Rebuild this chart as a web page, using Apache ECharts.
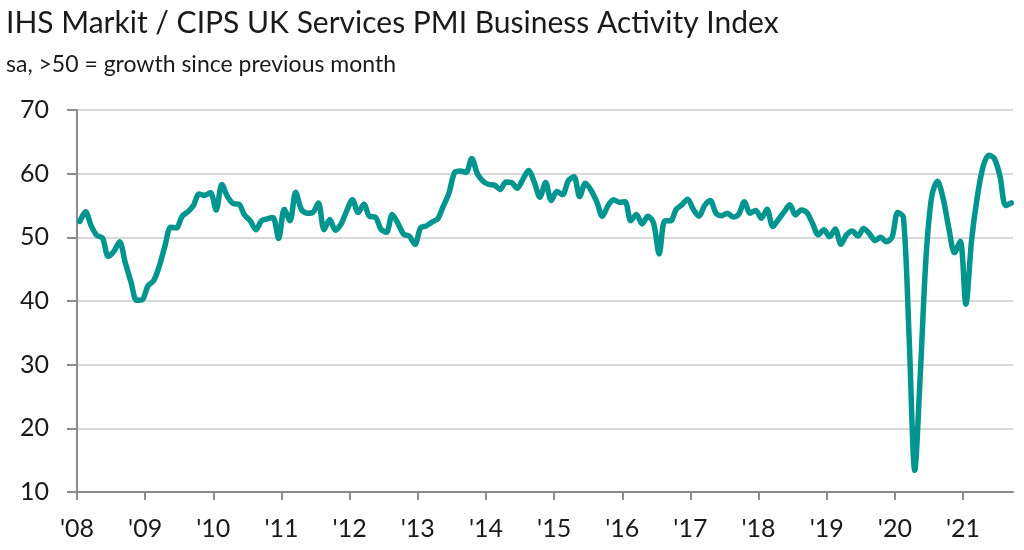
<!DOCTYPE html>
<html>
<head>
<meta charset="utf-8">
<script src="https://cdn.jsdelivr.net/npm/echarts@6/dist/echarts.min.js"></script>
<style>
html,body{margin:0;padding:0;background:#fff;}
#chart{width:1024px;height:550px;}
</style>
</head>
<body>
<div id="chart"></div>
<script>
// Monthly values, Jan..Dec, per year (sa index)
const v2008 = [52.5, 54.0, 51.8, 50.3, 49.9, 47.0, 47.8, 49.3, 46.0, 43.0, 40.1, 40.2];
const v2009 = [42.4, 43.2, 45.5, 48.7, 51.6, 51.5, 53.3, 54.0, 55.0, 56.8, 56.6, 57.0];
const v2010 = [54.3, 58.3, 56.4, 55.3, 55.2, 53.5, 52.6, 51.2, 52.6, 52.9, 53.1, 49.8];
const v2011 = [54.4, 52.6, 57.1, 54.4, 53.8, 53.9, 55.4, 51.2, 52.8, 51.1, 52.1, 54.2];
const v2012 = [55.9, 53.9, 55.2, 53.3, 53.2, 51.3, 50.8, 53.6, 52.2, 50.5, 50.2, 48.9];
const v2013 = [51.5, 51.8, 52.4, 52.9, 54.9, 57.0, 60.2, 60.4, 60.2, 62.4, 60.0, 58.8];
const v2014 = [58.3, 58.2, 57.5, 58.7, 58.6, 57.7, 59.1, 60.5, 58.7, 56.3, 58.6, 55.8];
const v2015 = [57.2, 56.7, 58.9, 59.5, 56.4, 58.5, 57.4, 55.6, 53.3, 55.0, 55.9, 55.5];
const v2016 = [55.6, 52.6, 53.6, 52.1, 53.3, 52.3, 47.4, 52.6, 52.6, 54.4, 55.1, 56.0];
const v2017 = [54.4, 53.3, 55.0, 55.8, 53.8, 53.4, 53.8, 53.2, 53.6, 55.6, 53.8, 54.2];
const v2018 = [53.0, 54.4, 51.7, 52.8, 54.0, 55.1, 53.5, 54.3, 53.9, 52.2, 50.4, 51.2];
const v2019 = [50.1, 51.3, 48.9, 50.4, 51.0, 50.2, 51.4, 50.6, 49.5, 50.0, 49.3, 50.0];
const v2020 = [53.9, 53.2, 34.5, 13.4, 29.0, 47.1, 56.5, 58.8, 56.1, 51.4, 47.6, 49.4];
const v2021 = [39.5, 49.5, 56.3, 61.0, 62.9, 62.4, 59.6, 55.0, 55.4];

const years = [2008, 2009, 2010, 2011, 2012, 2013, 2014, 2015, 2016, 2017, 2018, 2019, 2020, 2021];
const yearValues = [v2008, v2009, v2010, v2011, v2012, v2013, v2014, v2015, v2016, v2017, v2018, v2019, v2020, v2021];
const tickLabels = ["'08", "'09", "'10", "'11", "'12", "'13", "'14", "'15", "'16", "'17", "'18", "'19", "'20", "'21"];

const titleText = 'IHS Markit / CIPS UK Services PMI Business Activity Index';
const subtitleText = 'sa, >50 = growth since previous month';

const data = [];
years.forEach((y, yi) => {
  yearValues[yi].forEach((v, m) => {
    data.push([y + (m + 0.5) / 12, v]);
  });
});

const FONT = 'Lato';
const chart = echarts.init(document.getElementById('chart'), null, {renderer: 'canvas'});
chart.setOption({
  animation: false,
  backgroundColor: '#ffffff',
  title: {
    text: titleText,
    subtext: subtitleText,
    left: 1,
    top: 3,
    itemGap: 15,
    textStyle: {fontFamily: FONT, fontSize: 30, fontWeight: 'normal', color: '#1a1a1a'},
    subtextStyle: {fontFamily: FONT, fontSize: 23, color: '#1a1a1a'}
  },
  grid: {left: 77, right: 11, top: 110, bottom: 58},
  xAxis: {
    type: 'value',
    min: 2008,
    max: 2021.733,
    interval: 1,
    splitLine: {show: false},
    axisLine: {show: true, lineStyle: {color: '#8c8c8c', width: 2}},
    axisTick: {show: true, length: 8, customValues: years, lineStyle: {color: '#8c8c8c', width: 2}},
    axisLabel: {
      customValues: years,
      margin: 24,
      fontFamily: FONT,
      fontSize: 25,
      color: '#1a1a1a',
      formatter: (v) => tickLabels[years.indexOf(Math.round(v))] || ''
    }
  },
  yAxis: {
    type: 'value',
    min: 10,
    max: 70,
    interval: 10,
    axisLine: {show: true, lineStyle: {color: '#8c8c8c', width: 2}},
    axisTick: {show: true, length: 10, lineStyle: {color: '#8c8c8c', width: 2}},
    splitLine: {show: true, lineStyle: {color: '#d9d9d9', width: 2}},
    axisLabel: {margin: 28, fontFamily: FONT, fontSize: 25, color: '#1a1a1a'}
  },
  series: [{
    type: 'line',
    data: data,
    showSymbol: false,
    smooth: 0.3,
    lineStyle: {color: '#00968f', width: 5.5, cap: 'round', join: 'round'},
    z: 5
  }]
});
</script>
</body>
</html>
